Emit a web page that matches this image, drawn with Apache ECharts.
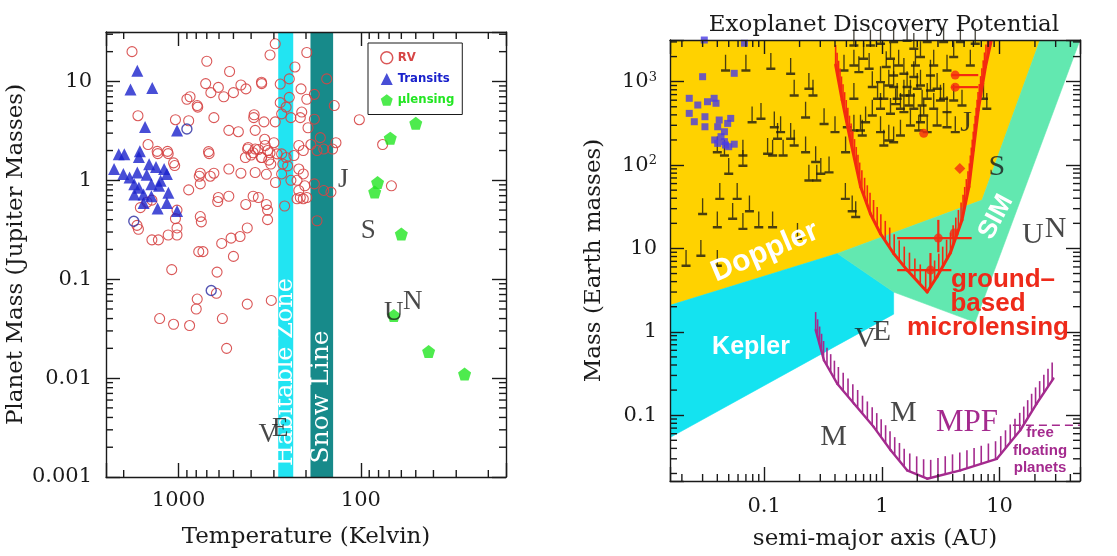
<!DOCTYPE html>
<html>
<head>
<meta charset="utf-8">
<script src="https://cdn.jsdelivr.net/npm/echarts@6/dist/echarts.min.js"></script>
<style>
  html, body { margin: 0; padding: 0; background: #fff; }
  #chart { width: 1117px; height: 556px; }
</style>
</head>
<body>
<div id="chart"></div>
<script>
// ---------------- Left panel: planet mass vs. temperature ----------------
const T_MIN = 16, T_MAX = 2500;          // Kelvin (axis runs hot -> cold)
const MJ_MIN = 0.001, MJ_MAX = 31.6;     // Jupiter masses

// radial-velocity planets [T (K), M (M_Jup)]
const rvPlanets = [
  [1800,20],[1670,4.5],[1470,2.3],[1310,1.96],[1150,1.96],[1490,0.6],[1620,0.53],[1400,0.63],
  [1660,0.32],[1690,0.35],[1400,0.25],[1290,0.25],[1140,0.28],[1020,0.28],[1020,0.5],[1040,0.41],
  [1020,0.33],[1065,1.5],[1040,4.1],[1090,0.125],[1270,0.040],[1065,0.035],[870,0.034],[800,0.050],
  [790,0.063],[620,0.072],[1300,1.86],[1140,1.86],[1050,1.41],
  [700,16],[525,12.6],[710,9.5],[605,8.7],[665,7.7],[455,9.2],[350,9.5],[565,7.0],[500,7.7],
  [865,7.0],[790,5.7],[880,4.0],[640,4.3],[385,4.6],[340,3.9],[295,3.9],[315,18.5],[295,24],
  [530,3.2],[470,3.1],[685,1.95],[415,2.15],[390,1.9],[400,1.8],[365,2.05],[350,1.7],[335,2.25],
  [315,1.9],[430,1.7],[320,1.6],[760,1.18],[640,1.18],[530,1.3],[455,1.18],[380,1.2],[330,1.15],
  [880,0.8],[760,0.92],[605,0.67],[530,0.69],[428,0.57],[390,0.69],[365,0.67],[330,0.57],
  [325,0.40],[420,0.33],[460,0.27],[580,0.23],[515,0.26],[775,0.19],[735,0.19],[500,0.17],
  [760,0.43],[615,0.118],[575,0.040],[420,0.056],[310,0.061],[545,0.020],[900,6.6],[785,5.5],
  [680,1.86],[770,1.1],[670,1.1],[610,0.61],[750,0.38],
  [198,19.6],[230,14],[247,10.6],[277,9.4],[213,8.4],[247,6.9],[277,6.1],[198,6.6],[180,7.4],
  [154,10.6],[140,5.7],[257,5.5],[242,4.3],[272,4.7],[215,4.3],[211,4.9],[180,4.15],[195,3.4],
  [167,2.7],[137,2.4],[160,2.07],[143,2.07],[174,2.0],[188,2.3],[207,2.0],[219,2.25],[233,1.78],
  [257,1.7],[272,1.85],[288,1.85],[268,1.46],[252,1.4],[219,1.3],[207,1.16],[224,1.0],[203,0.88],
  [215,0.67],[198,0.67],[180,0.92],[160,0.79],[146,0.76],[262,0.55],[174,0.39],[102,4.1],[76,2.3],
  [68,0.88],[351,9.8],[427,8.4],[387,4.3],[380,3.2],[337,2.6],[300,2.4],[325,2.0],[351,1.7],
  [380,2.07],[312,1.46],[272,1.16],[294,0.95],[242,1.0],[219,0.79],[224,0.65],[207,0.65],[325,0.5],[418,2.07]
];
// RV planets that are also seen in transit
const rvTransiting = [[900,3.3],[1760,0.385],[662,0.077]];
// transiting planets
const transitPlanets = [
  [1683,12.8],[1834,8.3],[1394,8.6],[1527,3.47],[1019,3.18],[2129,1.83],[1984,1.83],[1630,1.97],
  [1650,1.72],[2258,1.30],[2008,1.16],[1857,1.07],[1683,1.2],[1750,0.91],[1650,0.84],[1496,1.14],
  [1330,1.36],[1254,0.99],[1159,1.16],[1410,0.91],[1279,0.88],[1556,0.72],[1410,0.69],[1137,0.75],
  [1159,0.59],[1303,0.52],[1556,0.59],[1750,0.72],[1019,0.49],[1450,1.45],[1200,1.3]
];
// microlensing planets
const lensPlanets = [[50,3.77],[69,2.67],[81,0.95],[84,0.76],[60,0.287],[66,0.043],[42.5,0.0186],[27,0.011]];
// solar-system planets
const solarLeft = [
  { name: 'J', value: [125, 1.0] }, { name: 'S', value: [91, 0.31] },
  { name: 'U', value: [66, 0.046] }, { name: 'N', value: [52, 0.059] },
  { name: 'V', value: [322, 0.00265] }, { name: 'E', value: [277, 0.0031] }
];
const habitableZoneK = [235, 284];
const snowLineK = [142, 189];

// ---------------- Right panel: mass vs. semi-major axis ----------------
const A_MIN = 0.01585, A_MAX = 48.3;     // AU
const ME_MIN = 0.01625, ME_MAX = 3162;   // Earth masses

// detection regions (vertices in [a, M])
const dopplerRegion = [[A_MIN, ME_MAX], [22.1, ME_MAX], [7.1, 38], [0.42, 8.7], [A_MIN, 2.08]];
const keplerRegion  = [[A_MIN, 2.08], [0.42, 8.7], [1.26, 3.0], [1.26, 1.63], [A_MIN, 0.054]];
const simRegion     = [[0.42, 8.7], [7.1, 38], [22.1, ME_MAX], [A_MAX, ME_MAX], [6.2, 1.30], [1.26, 3.0]];

// ground-based microlensing sensitivity limit
const groundLensCurve = [
  [0.405,1585],[0.46,603],[0.54,200],[0.66,55],[0.80,26],[0.975,15],[1.26,8.7],[1.64,5.5],[2.43,3.0],
  [2.95,4.6],[3.82,8.8],[4.8,22],[5.5,55],[6.0,151],[6.6,457],[7.6,1514],[8.6,3340]
];
// MPF space microlensing sensitivity limit
const mpfCurve = [
  [0.274,1.05],[0.322,0.456],[0.418,0.239],[0.579,0.138],[0.855,0.072],[1.19,0.038],[1.64,0.0218],
  [2.43,0.0173],[4.65,0.0218],[9.5,0.030],[15,0.066],[20.7,0.138],[28.7,0.275]
];
const freeFloatingLimit = [[13, 0.0757], [A_MAX, 0.0757]];

// RV planets, minimum masses [a, M sin i]
const rvLowerLimits = [
  [0.047,1318],[0.070,1318],[0.114,1380],[0.168,1203],[0.240,795],[0.26,661],[0.180,661],[0.094,347],
  [0.079,316],[0.122,275],[0.138,240],[0.130,200],[0.168,200],[0.225,360],[0.323,300],[0.40,240],
  [0.509,275],[0.492,138],[0.579,251],[0.682,219],[0.579,603],[0.040,138],[0.046,126],[0.066,95],
  [0.050,76],[0.066,126],[0.107,132],[0.118,126],[0.145,126],[0.180,166],[0.225,138],[0.240,63],
  [0.28,63],[0.303,76],[0.356,79],[0.274,105],[0.059,38],[0.042,38],[0.075,27],[0.030,25],
  [0.040,17.4],[0.054,22],[0.066,16.6],[0.090,17.4],[0.118,17.4],[0.192,12.6],[0.0217,6.0],[0.040,6.0],
  [0.029,7.9],[0.49,38],[0.56,27],[0.6,23],
  [0.579,2630],[0.80,2630],[0.975,2760],[1.26,2890],[1.64,3000],[1.87,2400],[2.13,1910],[2.43,2890],
  [3.35,2890],[4.65,2890],[6.22,2760],[1.93,1514],[1.54,1203],[1.26,833],[0.975,955],[0.83,833],
  [0.70,1820],[0.638,1260],[0.477,1318],[0.579,1514],[1.185,1820],[1.39,1514],[1.04,603],[1.35,603],
  [1.75,661],[2.13,871],[2.59,1148],[2.95,795],[3.35,603],[3.58,417],[2.76,457],[2.27,380],[1.87,457],
  [1.54,417],[1.185,398],[0.975,457],[0.83,380],[0.728,316],[0.659,251],[0.975,240],[1.146,191],
  [1.44,219],[1.75,288],[2.13,316],[2.95,288],[3.58,275],[4.21,240],[5.65,1514],[7.31,603],[7.8,457],
  [4.08,575],[4.80,501],[1.26,182],[1.04,166],[2.06,251],[1.64,833],[1.54,661],[1.26,1148],[1.87,1100],
  [1.09,1450],[2.43,603],[2.59,759],[2.43,240],[1.44,457],[1.31,520],[1.70,501],[2.2,501],[3.15,575],
  [2.0,795],[1.146,871],[2.76,1514],[3.58,1318],[4.08,1910],[0.92,603],[0.78,1380]
];
// transiting planets
const transitHosts = [
  [0.031,3160],[0.068,2890],[0.0557,1260],[0.030,1148],[0.0231,632],[0.0273,525],[0.033,575],[0.0376,632],
  [0.039,551],[0.0231,417],[0.0255,331],[0.0314,380],[0.0314,288],[0.0403,288],[0.0415,347],[0.049,316],
  [0.052,363],[0.046,251],[0.043,219],[0.038,200],[0.0403,182],[0.047,174],[0.0557,178],[0.050,166],[0.046,191]
];
// microlensing detections with error ranges [a, M, aLo, aHi, MLo, MHi]
const lensDetections = [
  [4.2,1200,3.9,6.6,1200,1200],
  [4.2,860,3.9,6.6,860,860],
  [3.02,13.3,1.35,5.8,9,22],
  [2.59,5.5,1.35,3.9,3.4,8.8]
];
const lensDetectionsExtra = [[2.27,240],[4.13,15.3]];
const lensSaturnAnalog = [[4.6,91]];
const solarRight = [
  { name: 'J', value: [5.2, 318] }, { name: 'S', value: [9.5, 95] },
  { name: 'U', value: [19.2, 14.5] }, { name: 'N', value: [30, 17] },
  { name: 'V', value: [0.72, 0.815] }, { name: 'E', value: [1, 1] },
  { name: 'M', value: [1.52, 0.107] }, { name: 'M', value: [0.39, 0.055] }
];

// ---------------- styling ----------------
const SERIF = '"DejaVu Serif", serif';
const TIMES = '"Liberation Serif", "Times New Roman", serif';
const SANS = '"Liberation Sans", Arial, sans-serif';
const INK = '#1a1a1a';
const RV_RED = '#d64545', TRANSIT_BLUE = '#1a22cc', LENS_GREEN = '#22e622';
const DOPPLER_YELLOW = '#ffd200', KEPLER_CYAN = '#14e3f0', SIM_GREEN = '#62e8b0';
const HZ_CYAN = '#22e4f2', SNOW_TEAL = '#178a8a';
const CURVE_RED = '#f42a10', MPF_PURPLE = '#a42a8e', SQUARE_BLUE = '#4a3ce6';
const TICK_W = 1.4;

const isDecade = v => Math.abs(Math.log10(v) - Math.round(Math.log10(v))) < 1e-6;
function plainDecade(v) {
  if (!isDecade(v)) return '';
  const e = Math.round(Math.log10(v));
  return e >= 0 ? String(Math.pow(10, e)) : Math.pow(10, e).toFixed(-e);
}
function powerDecade(v) {
  if (!isDecade(v)) return '';
  const e = Math.round(Math.log10(v));
  if (e >= 2) return '10{s|' + e + '}';
  return e >= 0 ? String(Math.pow(10, e)) : Math.pow(10, e).toFixed(-e);
}
function minorValues(lo, hi) {
  const out = [];
  for (let e = Math.floor(Math.log10(lo)); e <= Math.ceil(Math.log10(hi)); e++) {
    for (let m = 2; m <= 9; m++) {
      const v = m * Math.pow(10, e);
      if (v > lo * 1.0001 && v < hi * 0.9999) out.push(v);
    }
  }
  return out;
}

// axes sit above the filled regions so the frame and ticks stay visible
function logAxis(gridIndex, min, max, opts) {
  return Object.assign({
    type: 'log', logBase: 10, gridIndex, min, max, z: 12,
    axisLine: { show: true, onZero: false, lineStyle: { color: INK, width: 1.4 } },
    axisTick: { show: true, inside: true, length: 14, lineStyle: { color: INK, width: TICK_W } },
    splitLine: { show: false },
    minorTick: { show: false },
    axisLabel: { show: false }
  }, opts);
}

// minor ticks drawn on all four sides of a grid
function minorTickSeries(xi, yi, xs, ys, xRef, yRef, len) {
  const data = xs.map(v => [v, yRef, 0]).concat(ys.map(v => [xRef, v, 1]));
  return {
    type: 'custom', xAxisIndex: xi, yAxisIndex: yi, data, silent: true, clip: false, z: 12,
    encode: { x: 0, y: 1 },
    renderItem(params, api) {
      const cs = params.coordSys;
      const p = api.coord([api.value(0), api.value(1)]);
      const st = { stroke: INK, lineWidth: TICK_W };
      if (api.value(2) === 0) {
        const x = p[0];
        return { type: 'group', children: [
          { type: 'line', shape: { x1: x, y1: cs.y + cs.height, x2: x, y2: cs.y + cs.height - len }, style: st },
          { type: 'line', shape: { x1: x, y1: cs.y, x2: x, y2: cs.y + len }, style: st }
        ] };
      }
      const y = p[1];
      return { type: 'group', children: [
        { type: 'line', shape: { x1: cs.x, y1: y, x2: cs.x + len, y2: y }, style: st },
        { type: 'line', shape: { x1: cs.x + cs.width, y1: y, x2: cs.x + cs.width - len, y2: y }, style: st }
      ] };
    }
  };
}

// filled detection region
function regionSeries(name, pts, color) {
  return {
    type: 'custom', name, xAxisIndex: 2, yAxisIndex: 2, data: pts, clip: true, silent: true, z: 1,
    encode: { x: 0, y: 1 },
    renderItem(params, api) {
      if (params.dataIndex !== 0) return null;
      return { type: 'polygon', shape: { points: pts.map(p => api.coord(p)) },
               style: { fill: color, stroke: color, lineWidth: 0.6 } };
    }
  };
}

// sensitivity limit with hatching on the detectable side
function hatchedCurve(curve, color, width, tickLen, step) {
  return {
    type: 'custom', xAxisIndex: 2, yAxisIndex: 2, data: curve, clip: true, silent: true, z: 6,
    encode: { x: 0, y: 1 },
    renderItem(params, api) {
      const i = params.dataIndex;
      if (i >= curve.length - 1) return null;
      const pts = curve.map(p => api.coord(p));
      let s0 = 0;
      for (let k = 0; k < i; k++) s0 += Math.hypot(pts[k + 1][0] - pts[k][0], pts[k + 1][1] - pts[k][1]);
      const a = pts[i], b = pts[i + 1];
      const L = Math.hypot(b[0] - a[0], b[1] - a[1]);
      const kids = [{ type: 'line', shape: { x1: a[0], y1: a[1], x2: b[0], y2: b[1] },
                      style: { stroke: color, lineWidth: width, lineCap: 'round' } }];
      for (let s = Math.ceil(s0 / step) * step; s < s0 + L; s += step) {
        const t = (s - s0) / L;
        const x = a[0] + (b[0] - a[0]) * t, y = a[1] + (b[1] - a[1]) * t;
        kids.push({ type: 'line', shape: { x1: x, y1: y, x2: x, y2: y - tickLen },
                    style: { stroke: color, lineWidth: 1.6 } });
      }
      return { type: 'group', children: kids };
    }
  };
}

const pentagon = 'path://M0,-1 L0.951,-0.309 L0.588,0.809 L-0.588,0.809 L-0.951,-0.309 Z';
const lowerLimitMark = 'path://M4,0 H5.4 V15 H9.4 V17.5 H0 V15 H4 Z';

const chart = echarts.init(document.getElementById('chart'), null, { renderer: 'canvas' });

const option = {
  animation: false,
  backgroundColor: '#fff',
  title: {
    text: 'Exoplanet Discovery Potential', left: 879, top: 9, textAlign: 'center',
    textStyle: { fontFamily: SERIF, fontWeight: 'normal', fontSize: 23, color: INK }
  },
  legend: {
    orient: 'vertical', left: 368, top: 43, padding: [8, 8, 8, 12], itemGap: 8,
    itemWidth: 12, itemHeight: 12, borderColor: INK, borderWidth: 1, backgroundColor: '#fff',
    selectedMode: false,
    textStyle: { fontFamily: '"Liberation Sans Narrow", "DejaVu Sans Condensed", sans-serif', fontWeight: 'bold', fontSize: 13 },
    data: [
      { name: 'RV', icon: 'circle', itemStyle: { color: 'rgba(0,0,0,0)', borderColor: RV_RED, borderWidth: 1.5 }, textStyle: { color: RV_RED } },
      { name: 'Transits', icon: 'triangle', itemStyle: { color: TRANSIT_BLUE }, textStyle: { color: TRANSIT_BLUE } },
      { name: 'μlensing', icon: pentagon, itemStyle: { color: LENS_GREEN }, textStyle: { color: LENS_GREEN } }
    ]
  },
  grid: [
    { left: 106, top: 32, width: 400, height: 445, containLabel: false, outerBoundsMode: 'none' },
    { left: 670, top: 40, width: 410, height: 441, containLabel: false, outerBoundsMode: 'none' }
  ],
  xAxis: [
    logAxis(0, T_MIN, T_MAX, {
      inverse: true, position: 'bottom',
      axisLabel: { show: true, formatter: plainDecade, margin: 13, fontFamily: SERIF, fontSize: 21, color: INK },
      name: 'Temperature (Kelvin)', nameLocation: 'middle', nameGap: 49,
      nameTextStyle: { fontFamily: SERIF, fontSize: 23, color: INK }
    }),
    logAxis(0, T_MIN, T_MAX, { inverse: true, position: 'top' }),
    logAxis(1, A_MIN, A_MAX, {
      position: 'bottom',
      axisLabel: { show: true, formatter: plainDecade, margin: 15, fontFamily: SERIF, fontSize: 21, color: INK },
      name: 'semi-major axis (AU)', nameLocation: 'middle', nameGap: 47,
      nameTextStyle: { fontFamily: SERIF, fontSize: 23, color: INK }
    }),
    logAxis(1, A_MIN, A_MAX, { position: 'top' })
  ],
  yAxis: [
    logAxis(0, MJ_MIN, MJ_MAX, {
      position: 'left',
      axisLabel: { show: true, formatter: plainDecade, margin: 14, fontFamily: SERIF, fontSize: 21, color: INK },
      name: 'Planet Mass (Jupiter Masses)', nameLocation: 'middle', nameGap: 59,
      nameTextStyle: { fontFamily: SERIF, fontSize: 23, color: INK }
    }),
    logAxis(0, MJ_MIN, MJ_MAX, { position: 'right' }),
    logAxis(1, ME_MIN, ME_MAX, {
      position: 'left',
      axisLabel: { show: true, formatter: powerDecade, margin: 13, fontFamily: SERIF, fontSize: 21, color: INK,
                   rich: { s: { fontFamily: SERIF, fontSize: 13, verticalAlign: 'top', color: INK, padding: [0, 0, 8, 0] } } },
      name: 'Mass (Earth masses)', nameLocation: 'middle', nameGap: 64,
      nameTextStyle: { fontFamily: SERIF, fontSize: 23, color: INK }
    }),
    logAxis(1, ME_MIN, ME_MAX, { position: 'right' })
  ],
  series: [
    // ---- left panel ----
    {
      type: 'scatter', name: 'bands', xAxisIndex: 0, yAxisIndex: 0, data: [], silent: true, z: 1,
      markArea: {
        silent: true,
        data: [
          [{ xAxis: habitableZoneK[1], itemStyle: { color: HZ_CYAN } }, { xAxis: habitableZoneK[0] }],
          [{ xAxis: snowLineK[1], itemStyle: { color: SNOW_TEAL } }, { xAxis: snowLineK[0] }]
        ]
      }
    },
    {
      type: 'scatter', name: 'RV', xAxisIndex: 0, yAxisIndex: 0, data: rvPlanets, symbol: 'circle', symbolSize: 10,
      itemStyle: { color: 'rgba(0,0,0,0)', borderColor: RV_RED, borderWidth: 1.1, opacity: 0.9 }, z: 3
    },
    {
      type: 'scatter', name: 'RV transiting', xAxisIndex: 0, yAxisIndex: 0, data: rvTransiting, symbol: 'circle', symbolSize: 10,
      itemStyle: { color: 'rgba(0,0,0,0)', borderColor: '#2a2aa0', borderWidth: 1.4 }, z: 4
    },
    {
      type: 'scatter', name: 'Transits', xAxisIndex: 0, yAxisIndex: 0, data: transitPlanets, symbol: 'triangle', symbolSize: 12,
      itemStyle: { color: TRANSIT_BLUE }, z: 5
    },
    {
      type: 'scatter', name: 'μlensing', xAxisIndex: 0, yAxisIndex: 0, data: lensPlanets, symbol: pentagon, symbolSize: 13,
      itemStyle: { color: LENS_GREEN }, z: 5
    },
    {
      type: 'scatter', name: 'solar system (T)', xAxisIndex: 0, yAxisIndex: 0, data: solarLeft, symbolSize: 1,
      itemStyle: { color: 'rgba(0,0,0,0)' }, silent: true, z: 8,
      label: { show: true, position: 'inside', formatter: '{b}', fontFamily: TIMES, fontSize: 27, color: INK }
    },
    minorTickSeries(0, 0, minorValues(T_MIN, T_MAX), minorValues(MJ_MIN, MJ_MAX), 100, 1, 7),

    // ---- right panel ----
    regionSeries('Doppler', dopplerRegion, DOPPLER_YELLOW),
    regionSeries('Kepler', keplerRegion, KEPLER_CYAN),
    regionSeries('SIM', simRegion, SIM_GREEN),
    {
      type: 'scatter', name: 'RV minimum masses', xAxisIndex: 2, yAxisIndex: 2, data: rvLowerLimits,
      symbol: lowerLimitMark, symbolSize: [9, 17], symbolOffset: [0, '-50%'], symbolKeepAspect: false,
      itemStyle: { color: '#1e1a10' }, z: 3
    },
    {
      type: 'scatter', name: 'transiting planets', xAxisIndex: 2, yAxisIndex: 2, data: transitHosts,
      symbol: 'rect', symbolSize: 7, itemStyle: { color: SQUARE_BLUE }, z: 4, clip: false
    },
    hatchedCurve(groundLensCurve, CURVE_RED, 3, 20, 8),
    hatchedCurve(mpfCurve, MPF_PURPLE, 2.4, 18, 7.5),
    {
      type: 'line', name: 'free-floating limit', xAxisIndex: 2, yAxisIndex: 2, data: freeFloatingLimit,
      symbol: 'none', lineStyle: { color: MPF_PURPLE, width: 1.4, type: [8, 5] }, z: 6, silent: true
    },
    {
      type: 'custom', name: 'lensing error bars', xAxisIndex: 2, yAxisIndex: 2, data: lensDetections, z: 7,
      encode: { x: 0, y: 1 }, silent: true,
      renderItem(params, api) {
        const v = i => api.value(i);
        const l = api.coord([v(2), v(1)]), r = api.coord([v(3), v(1)]);
        const b = api.coord([v(0), v(4)]), t = api.coord([v(0), v(5)]);
        const st = { stroke: CURVE_RED, lineWidth: 2.2 };
        return { type: 'group', children: [
          { type: 'line', shape: { x1: l[0], y1: l[1], x2: r[0], y2: r[1] }, style: st },
          { type: 'line', shape: { x1: b[0], y1: b[1], x2: t[0], y2: t[1] }, style: st }
        ] };
      }
    },
    {
      type: 'scatter', name: 'lensing detections', xAxisIndex: 2, yAxisIndex: 2,
      data: lensDetections.map(d => [d[0], d[1]]).concat(lensDetectionsExtra),
      symbol: 'circle', symbolSize: 9, itemStyle: { color: CURVE_RED }, z: 8
    },
    {
      type: 'scatter', name: 'lensing Saturn analog', xAxisIndex: 2, yAxisIndex: 2, data: lensSaturnAnalog,
      symbol: 'diamond', symbolSize: 11, itemStyle: { color: CURVE_RED }, z: 8
    },
    {
      type: 'scatter', name: 'solar system (a)', xAxisIndex: 2, yAxisIndex: 2, data: solarRight, symbolSize: 1,
      itemStyle: { color: 'rgba(0,0,0,0)' }, silent: true, z: 9,
      label: { show: true, position: 'inside', formatter: '{b}', fontFamily: TIMES, fontSize: 30, color: INK }
    },
    minorTickSeries(2, 2, minorValues(A_MIN, A_MAX), minorValues(ME_MIN, ME_MAX), 1, 1, 7)
  ],
  graphic: [
    { type: 'text', x: 285.5, y: 372, rotation: Math.PI / 2, z: 2,
      style: { text: 'Habitable Zone', fill: '#fff', font: '24px ' + SERIF, align: 'center', verticalAlign: 'middle' } },
    { type: 'text', x: 321.5, y: 397, rotation: Math.PI / 2, z: 2,
      style: { text: 'Snow Line', fill: '#fff', font: '25px ' + SERIF, align: 'center', verticalAlign: 'middle' } },
    { type: 'text', x: 765, y: 252, rotation: 23 * Math.PI / 180, z: 50,
      style: { text: 'Doppler', fill: '#fff', font: 'bold 30px ' + SANS, align: 'center', verticalAlign: 'middle' } },
    { type: 'text', x: 751, y: 347, z: 50,
      style: { text: 'Kepler', fill: '#fff', font: 'bold 25px ' + SANS, align: 'center', verticalAlign: 'middle' } },
    { type: 'text', x: 996, y: 217, rotation: 62 * Math.PI / 180, z: 50,
      style: { text: 'SIM', fill: '#fff', font: 'bold 26px ' + SANS, align: 'center', verticalAlign: 'middle' } },
    { type: 'text', x: 1003, y: 280, z: 50,
      style: { text: 'ground–', fill: '#ee2a1a', font: 'bold 26px ' + SANS, align: 'center', verticalAlign: 'middle' } },
    { type: 'text', x: 988, y: 304, z: 50,
      style: { text: 'based', fill: '#ee2a1a', font: 'bold 26px ' + SANS, align: 'center', verticalAlign: 'middle' } },
    { type: 'text', x: 988, y: 328, z: 50,
      style: { text: 'microlensing', fill: '#ee2a1a', font: 'bold 26px ' + SANS, align: 'center', verticalAlign: 'middle' } },
    { type: 'text', x: 967, y: 423, z: 50,
      style: { text: 'MPF', fill: MPF_PURPLE, font: '31px ' + TIMES, align: 'center', verticalAlign: 'middle' } },
    { type: 'text', x: 1040, y: 433, z: 50,
      style: { text: 'free', fill: MPF_PURPLE, font: 'bold 15px ' + SANS, align: 'center', verticalAlign: 'middle' } },
    { type: 'text', x: 1040, y: 451, z: 50,
      style: { text: 'floating', fill: MPF_PURPLE, font: 'bold 15px ' + SANS, align: 'center', verticalAlign: 'middle' } },
    { type: 'text', x: 1040, y: 468, z: 50,
      style: { text: 'planets', fill: MPF_PURPLE, font: 'bold 15px ' + SANS, align: 'center', verticalAlign: 'middle' } }
  ]
};

chart.setOption(option);
</script>
</body>
</html>
